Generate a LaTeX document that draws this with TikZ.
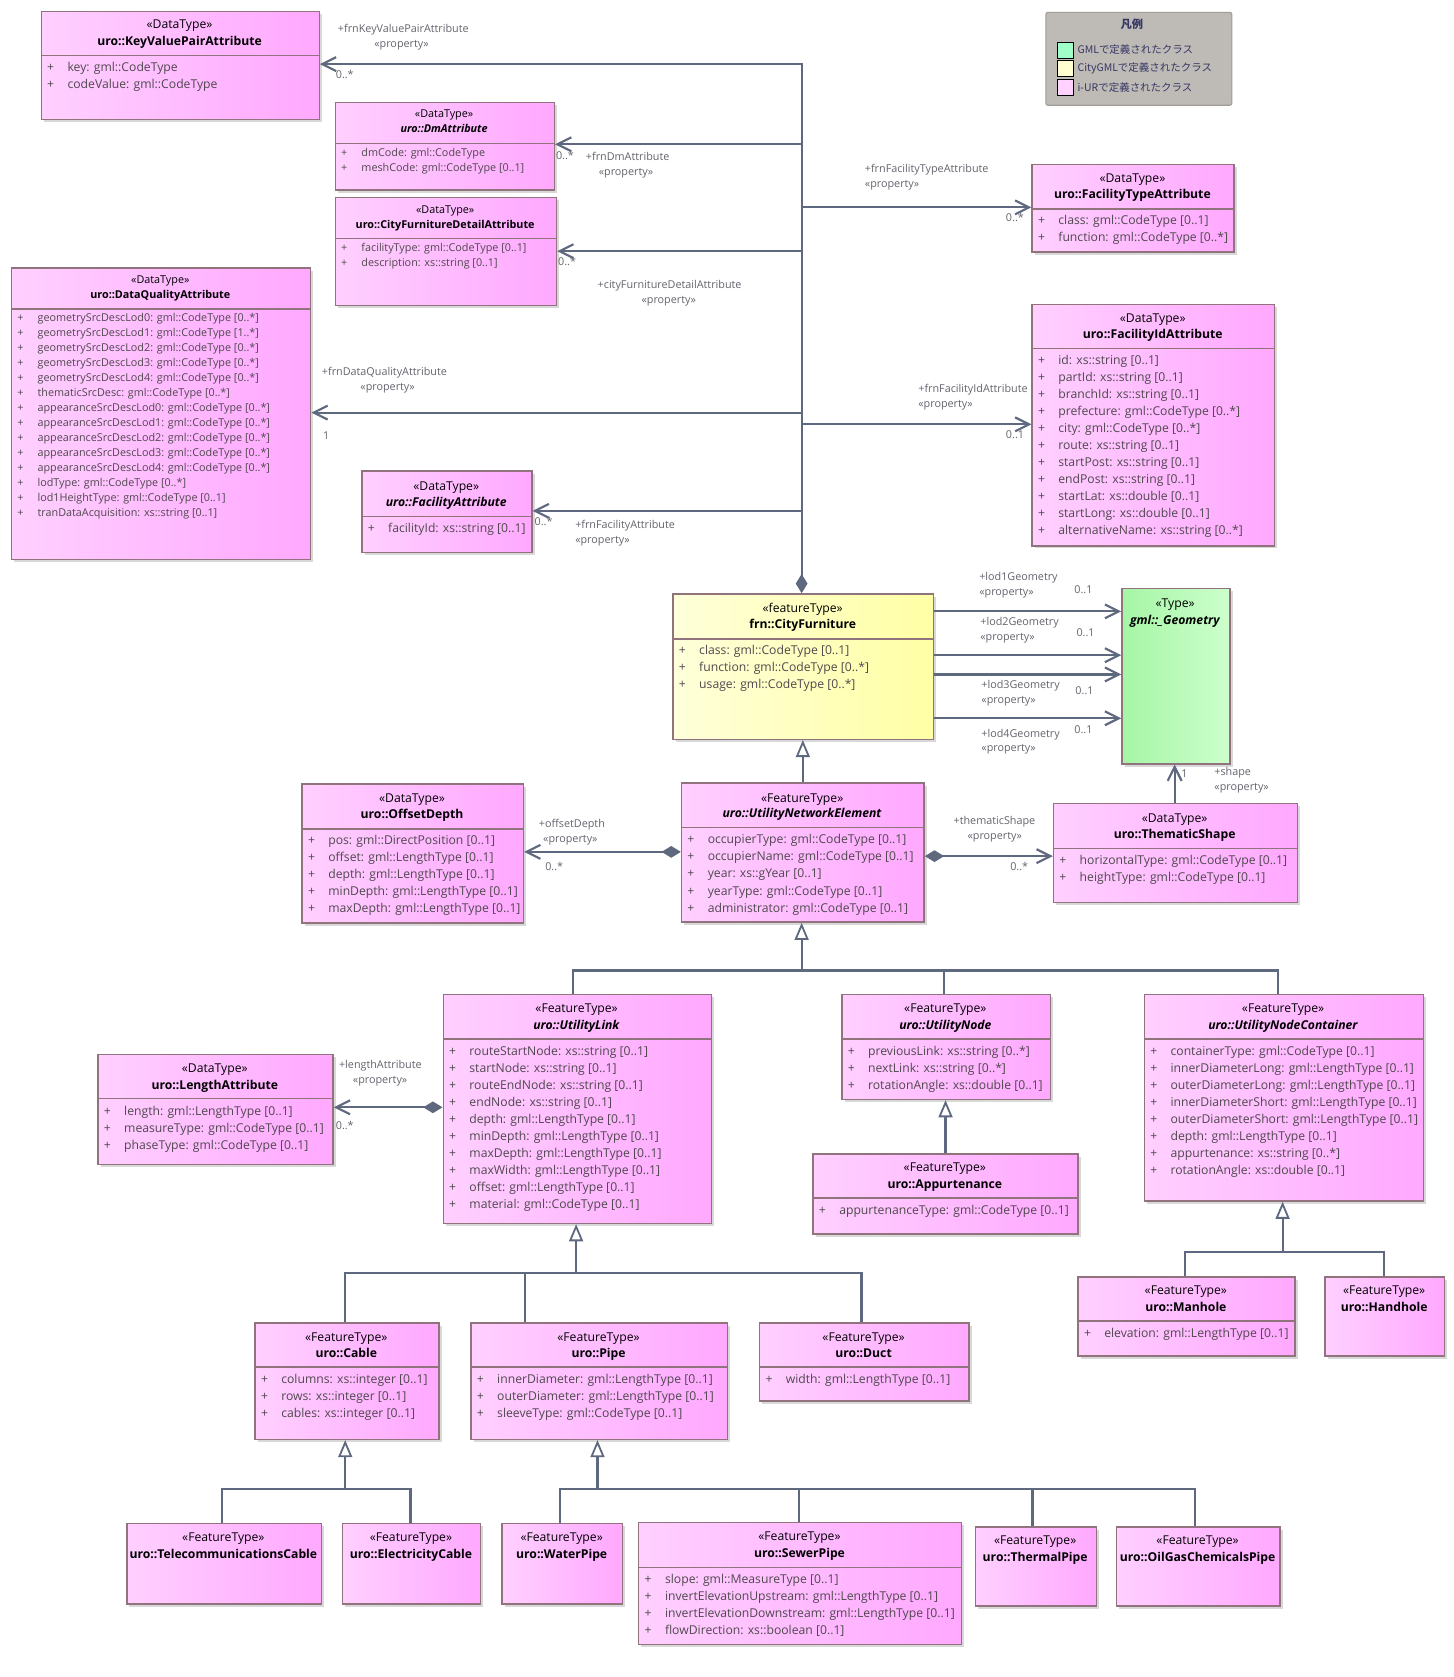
\documentclass[tikz,border=0pt]{standalone}
\usepackage{fontspec}
\setmainfont{Open Sans}
\newfontfamily\jpfont{Noto Sans CJK JP}
\usetikzlibrary{arrows.meta,shadows}
\definecolor{pinkL}{RGB}{255,208,255}
\definecolor{pinkR}{RGB}{255,168,255}
\definecolor{yelL}{RGB}{255,255,218}
\definecolor{yelR}{RGB}{255,255,165}
\definecolor{grnL}{RGB}{165,245,165}
\definecolor{grnR}{RGB}{205,255,205}
\definecolor{boxb}{RGB}{145,115,125}
\definecolor{linec}{RGB}{94,104,126}
\definecolor{attrc}{RGB}{80,72,78}
\definecolor{labc}{RGB}{100,100,110}
\definecolor{legbg}{RGB}{190,186,182}
\definecolor{legbd}{RGB}{160,156,152}
\definecolor{legtx}{RGB}{55,55,100}
\definecolor{legG}{RGB}{160,255,200}
\definecolor{legY}{RGB}{255,255,210}
\definecolor{legP}{RGB}{255,210,255}
\tikzset{
 ubox/.style={draw=boxb, line width=1.3pt, inner sep=0pt,
   drop shadow={shadow xshift=2.5pt, shadow yshift=-2.5pt, opacity=0.3}},
 pinkbox/.style={ubox, left color=pinkL, right color=pinkR},
 yelbox/.style={ubox, left color=yelL, right color=yelR},
 grnbox/.style={ubox, left color=grnL, right color=grnR},
 divline/.style={draw=boxb, line width=1.3pt},
 bigt/.style={inner sep=0pt, font=\fontsize{11.4}{13}\selectfont, text height=8.2pt, text depth=2.4pt},
 smallt/.style={inner sep=0pt, font=\fontsize{10.1}{12}\selectfont, text height=7.4pt, text depth=2.1pt},
 biga/.style={bigt, text=attrc},
 smalla/.style={smallt, text=attrc},
 lab/.style={inner sep=0pt, anchor=west, text=labc, font=\fontsize{10.1}{11}\selectfont, text height=7.2pt, text depth=2.1pt},
 conn/.style={draw=linec, line width=2pt},
 assoc/.style={conn, -{Straight Barb[length=13pt,width=13pt]}},
 compo/.style={conn, {Diamond[length=18pt,width=11pt]}-{Straight Barb[length=13pt,width=13pt]}},
 gen/.style={conn, -{Triangle[open, length=16pt, width=13pt, fill=white, line width=1.7pt]}},
 legsq/.style={draw=black, line width=0.8pt, minimum size=15pt, inner sep=0pt, anchor=north west},
 legt/.style={anchor=west, inner sep=0pt, text=legtx, font=\jpfont\fontsize{9.8}{11}\selectfont},
}
% box: name, style, x1, y1, x2, y2
\newcommand\ubx[6]{\node[#2, anchor=north west, minimum width={(#5-#3)*1pt}, minimum height={(#6-#4)*1pt}] (#1) at (#3,#4) {};}
% header: name, style, x1, x2, y stereo, y name, stereo, class name
\newcommand\uhd[8]{\node[#2] (#1-s) at ({(#3+#4)/2},#5) {#7};
  \node[#2] (#1-n) at ({(#3+#4)/2},#6) {#8};}
% attributes: name, style, x1, y first, spacing, list
\newcommand\uat[6]{\foreach \t [count=\i] in {#6} {
   \node[#2, anchor=west] (#1-p\i) at ({#3+6},{#4+(\i-1)*#5}) {+};
   \node[#2, anchor=west] (#1-a\i) at ({#3+25},{#4+(\i-1)*#5}) {\t};}}
\begin{document}
\begin{tikzpicture}[x=1pt,y=-1pt]
\fill[white] (0,0) rectangle (1360.3,1569);
\useasboundingbox (0,0) rectangle (1360.3,1569);

% ---------- legend
\node[draw=legbd, fill=legbg, rounded corners=2pt, line width=1pt, anchor=north west, minimum width=174pt, minimum height=87pt, inner sep=0pt] (legend) at (978,11) {};
\node[inner sep=0pt, text=legtx, font=\jpfont\bfseries\fontsize{10.5}{12}\selectfont] (leg-t) at (1059,23) {凡例};
\node[legsq, fill=legG] (leg-g) at (989,39) {};
\node[legsq, fill=legY] (leg-y) at (989,56.5) {};
\node[legsq, fill=legP] (leg-p) at (989,74) {};
\node[legt] (leg-gt) at (1008,46.5) {GMLで定義されたクラス};
\node[legt] (leg-yt) at (1008,64) {CityGMLで定義されたクラス};
\node[legt] (leg-pt) at (1008,81.5) {i-URで定義されたクラス};

% ---------- boxes
\ubx{kvp}{pinkbox}{38}{10}{298}{111}
\uhd{kvp}{bigt}{38}{298}{24}{40}{«DataType»}{\textbf{uro::KeyValuePairAttribute}}
\draw[divline] (38,52) -- (298,52);
\uat{kvp}{biga}{38}{64}{16}{key: gml::CodeType, codeValue: gml::CodeType}

\ubx{dm}{pinkbox}{313}{95}{518}{177}
\uhd{dm}{smallt}{313}{518}{107}{121}{«DataType»}{\textbf{\textit{uro::DmAttribute}}}
\draw[divline] (313,134) -- (518,134);
\uat{dm}{smalla}{313}{143.5}{14}{dmCode: gml::CodeType, meshCode: gml::CodeType [0..1]}

\ubx{cfd}{pinkbox}{313}{184}{520}{285}
\uhd{cfd}{smallt}{313}{520}{197}{211}{«DataType»}{\textbf{uro::CityFurnitureDetailAttribute}}
\draw[divline] (313,223) -- (520,223);
\uat{cfd}{smalla}{313}{233}{14}{facilityType: gml::CodeType [0..1], description: xs::string [0..1]}

\ubx{dq}{pinkbox}{10}{250}{290}{523}
\uhd{dq}{smallt}{10}{290}{262.5}{276.3}{«DataType»}{\textbf{uro::DataQualityAttribute}}
\draw[divline] (10,289) -- (290,289);
\uat{dq}{smalla}{10}{298.5}{14}{geometrySrcDescLod0: gml::CodeType [0..*], geometrySrcDescLod1: gml::CodeType [1..*], geometrySrcDescLod2: gml::CodeType [0..*], geometrySrcDescLod3: gml::CodeType [0..*], geometrySrcDescLod4: gml::CodeType [0..*], thematicSrcDesc: gml::CodeType [0..*], appearanceSrcDescLod0: gml::CodeType [0..*], appearanceSrcDescLod1: gml::CodeType [0..*], appearanceSrcDescLod2: gml::CodeType [0..*], appearanceSrcDescLod3: gml::CodeType [0..*], appearanceSrcDescLod4: gml::CodeType [0..*], lodType: gml::CodeType [0..*], lod1HeightType: gml::CodeType [0..1], tranDataAcquisition: xs::string [0..1]}

\ubx{fa}{pinkbox}{338}{440}{497}{516}
\uhd{fa}{bigt}{338}{497}{456}{471}{«DataType»}{\textbf{\textit{uro::FacilityAttribute}}}
\draw[divline] (338,483) -- (497,483);
\uat{fa}{biga}{338}{495}{16}{facilityId: xs::string [0..1]}

\ubx{fta}{pinkbox}{965}{153}{1154}{235}
\uhd{fta}{bigt}{965}{1154}{167.5}{183}{«DataType»}{\textbf{uro::FacilityTypeAttribute}}
\draw[divline] (965,195.5) -- (1154,195.5);
\uat{fta}{biga}{965}{207.5}{16}{class: gml::CodeType [0..1], function: gml::CodeType [0..*]}

\ubx{fia}{pinkbox}{965}{284}{1192}{510}
\uhd{fia}{bigt}{965}{1192}{298.4}{313.7}{«DataType»}{\textbf{uro::FacilityIdAttribute}}
\draw[divline] (965,326) -- (1192,326);
\uat{fia}{biga}{965}{338}{15.9}{id: xs::string [0..1], partId: xs::string [0..1], branchId: xs::string [0..1], prefecture: gml::CodeType [0..*], city: gml::CodeType [0..*], route: xs::string [0..1], startPost: xs::string [0..1], endPost: xs::string [0..1], startLat: xs::double [0..1], startLong: xs::double [0..1], alternativeName: xs::string [0..*]}

\ubx{cf}{yelbox}{629}{555}{873}{691}
\uhd{cf}{bigt}{629}{873}{570}{585.3}{«featureType»}{\textbf{frn::CityFurniture}}
\draw[divline] (629,598) -- (873,598);
\uat{cf}{biga}{629}{609}{16}{class: gml::CodeType [0..1], function: gml::CodeType [0..*], usage: gml::CodeType [0..*]}

\ubx{geom}{grnbox}{1049}{550}{1150}{714}
\uhd{geom}{bigt}{1049}{1150}{565}{581}{«Type»}{\textbf{\textit{gml::\_Geometry}}}

\ubx{od}{pinkbox}{282}{733}{489}{863}
\uhd{od}{bigt}{282}{489}{747.5}{762.5}{«DataType»}{\textbf{uro::OffsetDepth}}
\draw[divline] (282,775.5) -- (489,775.5);
\uat{od}{biga}{282}{787}{15.9}{pos: gml::DirectPosition [0..1], offset: gml::LengthType [0..1], depth: gml::LengthType [0..1], minDepth: gml::LengthType [0..1], maxDepth: gml::LengthType [0..1]}

\ubx{une}{pinkbox}{637}{732}{864}{862}
\uhd{une}{bigt}{637}{864}{747.5}{762}{«FeatureType»}{\textbf{\textit{uro::UtilityNetworkElement}}}
\draw[divline] (637,774) -- (864,774);
\uat{une}{biga}{637}{786.5}{16}{occupierType: gml::CodeType [0..1], occupierName: gml::CodeType [0..1], year: xs::gYear [0..1], yearType: gml::CodeType [0..1], administrator: gml::CodeType [0..1]}

\ubx{ts}{pinkbox}{985}{751}{1213}{844}
\uhd{ts}{bigt}{985}{1213}{766.4}{782}{«DataType»}{\textbf{uro::ThematicShape}}
\draw[divline] (985,794) -- (1213,794);
\uat{ts}{biga}{985}{805.5}{16}{horizontalType: gml::CodeType [0..1], heightType: gml::CodeType [0..1]}

\ubx{la}{pinkbox}{91}{986}{311}{1089}
\uhd{la}{bigt}{91}{311}{1000.3}{1016.5}{«DataType»}{\textbf{uro::LengthAttribute}}
\draw[divline] (91,1028) -- (311,1028);
\uat{la}{biga}{91}{1041}{16}{length: gml::LengthType [0..1], measureType: gml::CodeType [0..1], phaseType: gml::CodeType [0..1]}

\ubx{ul}{pinkbox}{414}{930}{665}{1144}
\uhd{ul}{bigt}{414}{665}{944.8}{960.4}{«FeatureType»}{\textbf{\textit{uro::UtilityLink}}}
\draw[divline] (414,972) -- (665,972);
\uat{ul}{biga}{414}{984.4}{15.95}{routeStartNode: xs::string [0..1], startNode: xs::string [0..1], routeEndNode: xs::string [0..1], endNode: xs::string [0..1], depth: gml::LengthType [0..1], minDepth: gml::LengthType [0..1], maxDepth: gml::LengthType [0..1], maxWidth: gml::LengthType [0..1], offset: gml::LengthType [0..1], material: gml::CodeType [0..1]}

\ubx{un}{pinkbox}{787}{930}{982}{1028}
\uhd{un}{bigt}{787}{982}{944.8}{960.4}{«FeatureType»}{\textbf{\textit{uro::UtilityNode}}}
\draw[divline] (787,972) -- (982,972);
\uat{un}{biga}{787}{984.4}{16}{previousLink: xs::string [0..*], nextLink: xs::string [0..*], rotationAngle: xs::double [0..1]}

\ubx{app}{pinkbox}{760}{1079}{1008}{1154}
\uhd{app}{bigt}{760}{1008}{1093.5}{1109.5}{«FeatureType»}{\textbf{uro::Appurtenance}}
\draw[divline] (760,1121) -- (1008,1121);
\uat{app}{biga}{760}{1133.5}{16}{appurtenanceType: gml::CodeType [0..1]}

\ubx{unc}{pinkbox}{1070}{930}{1331}{1123}
\uhd{unc}{bigt}{1070}{1331}{944.8}{960.4}{«FeatureType»}{\textbf{\textit{uro::UtilityNodeContainer}}}
\draw[divline] (1070,972) -- (1331,972);
\uat{unc}{biga}{1070}{984.4}{16}{containerType: gml::CodeType [0..1], innerDiameterLong: gml::LengthType [0..1], outerDiameterLong: gml::LengthType [0..1], innerDiameterShort: gml::LengthType [0..1], outerDiameterShort: gml::LengthType [0..1], depth: gml::LengthType [0..1], appurtenance: xs::string [0..*], rotationAngle: xs::double [0..1]}

\ubx{mh}{pinkbox}{1008}{1194}{1211}{1268}
\uhd{mh}{bigt}{1008}{1211}{1208.3}{1224.5}{«FeatureType»}{\textbf{uro::Manhole}}
\draw[divline] (1008,1236) -- (1211,1236);
\uat{mh}{biga}{1008}{1248}{16}{elevation: gml::LengthType [0..1]}

\ubx{hh}{pinkbox}{1239}{1194}{1351}{1268}
\uhd{hh}{bigt}{1239}{1351}{1208.3}{1224.5}{«FeatureType»}{\textbf{uro::Handhole}}

\ubx{cable}{pinkbox}{238}{1237}{410}{1346}
\uhd{cable}{bigt}{238}{410}{1252}{1267.5}{«FeatureType»}{\textbf{uro::Cable}}
\draw[divline] (238,1279) -- (410,1279);
\uat{cable}{biga}{238}{1291.5}{16}{columns: xs::integer [0..1], rows: xs::integer [0..1], cables: xs::integer [0..1]}

\ubx{pipe}{pinkbox}{440}{1237}{680}{1346}
\uhd{pipe}{bigt}{440}{680}{1252}{1267.5}{«FeatureType»}{\textbf{uro::Pipe}}
\draw[divline] (440,1279) -- (680,1279);
\uat{pipe}{biga}{440}{1291.5}{16}{innerDiameter: gml::LengthType [0..1], outerDiameter: gml::LengthType [0..1], sleeveType: gml::CodeType [0..1]}

\ubx{duct}{pinkbox}{710}{1237}{906}{1310}
\uhd{duct}{bigt}{710}{906}{1252}{1267.5}{«FeatureType»}{\textbf{uro::Duct}}
\draw[divline] (710,1279) -- (906,1279);
\uat{duct}{biga}{710}{1291.5}{16}{width: gml::LengthType [0..1]}

\ubx{tc}{pinkbox}{118}{1425}{300}{1500}
\uhd{tc}{bigt}{118}{300}{1439.7}{1455.5}{«FeatureType»}{\textbf{uro::TelecommunicationsCable}}
\ubx{ec}{pinkbox}{320}{1425}{449}{1500}
\uhd{ec}{bigt}{320}{449}{1439.7}{1455.5}{«FeatureType»}{\textbf{uro::ElectricityCable}}
\ubx{wp}{pinkbox}{469}{1425}{582}{1500}
\uhd{wp}{bigt}{469}{582}{1439.7}{1455.5}{«FeatureType»}{\textbf{uro::WaterPipe}}

\ubx{sp}{pinkbox}{597}{1424}{899}{1538}
\uhd{sp}{bigt}{597}{899}{1438.4}{1454.6}{«FeatureType»}{\textbf{uro::SewerPipe}}
\draw[divline] (597,1466.5) -- (899,1466.5);
\uat{sp}{biga}{597}{1478.6}{16}{slope: gml::MeasureType [0..1], invertElevationUpstream: gml::LengthType [0..1], invertElevationDownstream: gml::LengthType [0..1], flowDirection: xs::boolean [0..1]}

\ubx{tp}{pinkbox}{912}{1428}{1025}{1502}
\uhd{tp}{bigt}{912}{1025}{1442}{1458.3}{«FeatureType»}{\textbf{uro::ThermalPipe}}
\ubx{og}{pinkbox}{1044}{1428}{1197}{1502}
\uhd{og}{bigt}{1044}{1197}{1442}{1458.3}{«FeatureType»}{\textbf{uro::OilGasChemicalsPipe}}

% ---------- connectors: CityFurniture property bus
\coordinate (bTop) at (750,60);
\coordinate (bDm) at (750,135);
\coordinate (bFt) at (750,194);
\coordinate (bCfd) at (750,235);
\coordinate (bDq) at (750,386);
\coordinate (bFi) at (750,397);
\coordinate (bFa) at (750,478);
\draw[conn, {Straight Barb[length=13pt,width=13pt]}-{Diamond[length=18pt,width=11pt]}] (bTop -| kvp.east) -- (bTop) -- (bTop |- cf.north);
\draw[assoc] (bDm) -- (bDm -| dm.east);
\draw[assoc] (bFt) -- (bFt -| fta.west);
\draw[assoc] (bCfd) -- (bCfd -| cfd.east);
\draw[assoc] (bDq) -- (bDq -| dq.east);
\draw[assoc] (bFi) -- (bFi -| fia.west);
\draw[assoc] (bFa) -- (bFa -| fa.east);

% geometry associations
\coordinate (gA) at (960,572);
\coordinate (gB) at (960,613);
\coordinate (gC) at (960,631);
\coordinate (gD) at (960,672);
\draw[assoc] (cf.east |- gA) -- (geom.west |- gA);
\draw[assoc] (cf.east |- gB) -- (geom.west |- gB);
\draw[assoc] (cf.east |- gC) -- (geom.west |- gC);
\draw[assoc] (cf.east |- gD) -- (geom.west |- gD);
\coordinate (gS) at (1099,730);
\draw[assoc] (ts.north -| gS) -- (geom.south -| gS);

% compositions
\coordinate (cOd) at (560,797);
\draw[compo] (une.west |- cOd) -- (od.east |- cOd);
\coordinate (cTs) at (920,801);
\draw[compo] (une.east |- cTs) -- (ts.west |- cTs);
\coordinate (cLa) at (360,1036);
\draw[compo] (ul.west |- cLa) -- (la.east |- cLa);

% generalizations
\draw[gen] (une.north) -- (une.north |- cf.south);
\coordinate (g0) at (750,908);
\coordinate (g1) at (536,908);
\coordinate (g2) at (883,908);
\coordinate (g3) at (1196,908);
\draw[gen] (g0) -- (g0 |- une.south);
\draw[conn] (g1 |- ul.north) -- (g1) -- (g3) -- (g3 |- unc.north);
\draw[conn] (g2) -- (g2 |- un.north);
\draw[gen] (app.north) -- (app.north |- un.south);

\coordinate (k0) at (539,1191);
\coordinate (k1) at (323,1191);
\coordinate (k2) at (491,1191);
\coordinate (k3) at (806,1191);
\draw[gen] (k0) -- (k0 |- ul.south);
\draw[conn] (k1 |- cable.north) -- (k1) -- (k3) -- (k3 |- duct.north);
\draw[conn] (k2) -- (k2 |- pipe.north);

\coordinate (m0) at (323,1393);
\coordinate (m1) at (208,1393);
\coordinate (m2) at (384,1393);
\draw[gen] (m0) -- (m0 |- cable.south);
\draw[conn] (m1 |- tc.north) -- (m1) -- (m2) -- (m2 |- ec.north);

\coordinate (q0) at (559,1393);
\coordinate (q1) at (524,1393);
\coordinate (q2) at (747.5,1393);
\coordinate (q3) at (966,1393);
\coordinate (q4) at (1118,1393);
\draw[gen] (q0) -- (q0 |- pipe.south);
\draw[conn] (q1 |- wp.north) -- (q1) -- (q4) -- (q4 |- og.north);
\draw[conn] (q2) -- (q2 |- sp.north);
\draw[conn] (q3) -- (q3 |- tp.north);

\coordinate (r0) at (1200,1171);
\coordinate (r1) at (1109,1171);
\coordinate (r2) at (1295,1171);
\draw[gen] (r0) -- (r0 |- unc.south);
\draw[conn] (r1 |- mh.north) -- (r1) -- (r2) -- (r2 |- hh.north);

% ---------- connector labels
\node[lab] (t1) at (316,28) {+frnKeyValuePairAttribute};
\node[lab] (t2) at (350,42) {«property»};
\node[lab] (t3) at (314,71) {0..*};
\node[lab] (t4) at (520,147) {0..*};
\node[lab] (t5) at (548,148) {+frnDmAttribute};
\node[lab] (t6) at (560,162) {«property»};
\node[lab] (t7) at (809,159) {+frnFacilityTypeAttribute};
\node[lab] (t8) at (809,173) {«property»};
\node[lab] (t9) at (941,205) {0..*};
\node[lab] (t10) at (522,246) {0..*};
\node[lab] (t11) at (559,267) {+cityFurnitureDetailAttribute};
\node[lab] (t12) at (600,281) {«property»};
\node[lab] (t13) at (301,349) {+frnDataQualityAttribute};
\node[lab] (t14) at (337,363) {«property»};
\node[lab] (t15) at (302,409) {1};
\node[lab] (t16) at (859,365) {+frnFacilityIdAttribute};
\node[lab] (t17) at (859,379) {«property»};
\node[lab] (t18) at (941,408) {0..1};
\node[lab] (t19) at (500,489) {0..*};
\node[lab] (t20) at (538,492) {+frnFacilityAttribute};
\node[lab] (t21) at (538,506) {«property»};
\node[lab] (t22) at (916,541) {+lod1Geometry};
\node[lab] (t23) at (916,555) {«property»};
\node[lab] (t24) at (1005,553) {0..1};
\node[lab] (t25) at (917,583) {+lod2Geometry};
\node[lab] (t26) at (917,597) {«property»};
\node[lab] (t27) at (1007,593) {0..1};
\node[lab] (t28) at (918,642) {+lod3Geometry};
\node[lab] (t29) at (918,656) {«property»};
\node[lab] (t30) at (1006,647) {0..1};
\node[lab] (t31) at (918,687) {+lod4Geometry};
\node[lab] (t32) at (918,701) {«property»};
\node[lab] (t33) at (1005,684) {0..1};
\node[lab] (t34) at (504,772) {+offsetDepth};
\node[lab] (t35) at (508,786) {«property»};
\node[lab] (t36) at (510,812) {0..*};
\node[lab] (t37) at (892,769) {+thematicShape};
\node[lab] (t38) at (905,783) {«property»};
\node[lab] (t39) at (945,812) {0..*};
\node[lab] (t40) at (1105,725) {1};
\node[lab] (t41) at (1136,723) {+shape};
\node[lab] (t42) at (1136,737) {«property»};
\node[lab] (t43) at (317,997) {+lengthAttribute};
\node[lab] (t44) at (330,1011) {«property»};
\node[lab] (t45) at (314,1054) {0..*};
\end{tikzpicture}
\end{document}
